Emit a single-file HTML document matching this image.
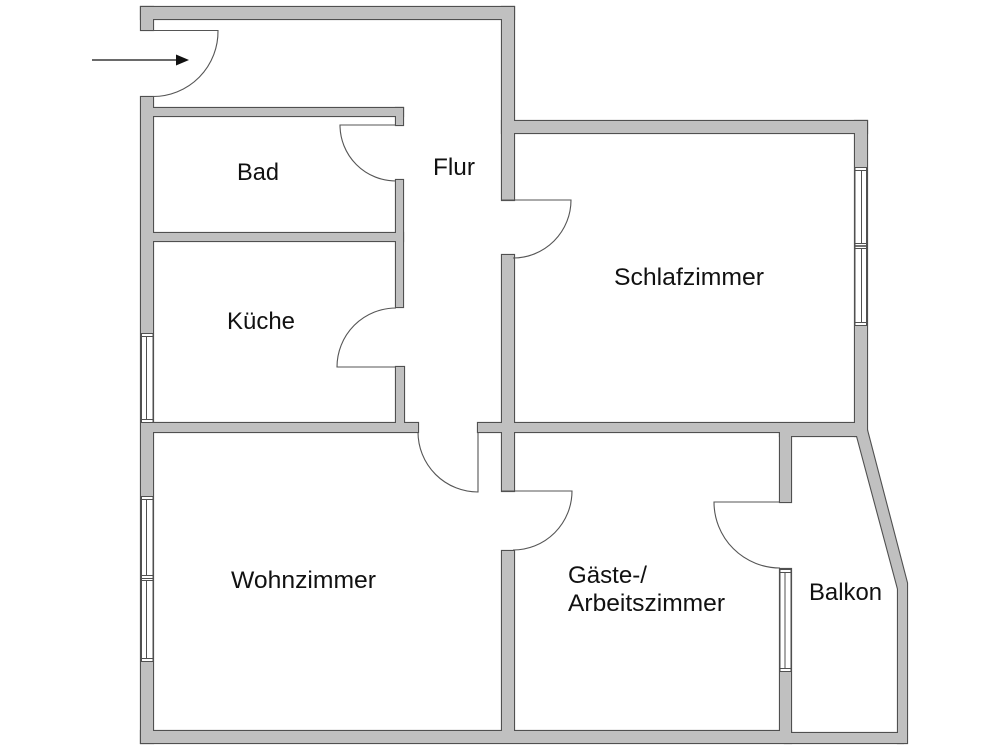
<!DOCTYPE html>
<html>
<head>
<meta charset="utf-8">
<style>
  html,body{margin:0;padding:0;background:#fff;}
  svg{display:block;}
  text{font-family:"Liberation Sans",Arial,sans-serif;font-size:24.5px;fill:#111;}
</style>
</head>
<body>
<svg width="1000" height="750" viewBox="0 0 1000 750" xmlns="http://www.w3.org/2000/svg">
  <defs>
    <g id="w">
      <!-- outer walls -->
      <rect x="141" y="7" width="373" height="12"/>
      <rect x="141" y="7" width="12" height="23"/>
      <rect x="141" y="97" width="12" height="646"/>
      <rect x="502" y="7" width="12" height="193"/>
      <rect x="502" y="121" width="365" height="12"/>
      <rect x="855" y="121" width="12" height="315"/>
      <rect x="141" y="731" width="650" height="12"/>
      <polygon points="855,430 867,430 907,583 907,743 898,743 898,589 857,436"/>
      <!-- inner walls -->
      <rect x="150" y="108" width="253" height="8"/>
      <rect x="396" y="108" width="7" height="17"/>
      <rect x="396" y="180" width="7" height="127"/>
      <rect x="150" y="233" width="253" height="8"/>
      <rect x="396" y="367" width="8" height="60"/>
      <rect x="150" y="423" width="268" height="9"/>
      <rect x="478" y="423" width="30" height="9"/>
      <rect x="502" y="255" width="12" height="236"/>
      <rect x="502" y="551" width="12" height="185"/>
      <rect x="508" y="423" width="355" height="9"/>
      <rect x="780" y="424" width="83" height="12"/>
      <rect x="780" y="424" width="11" height="78"/>
      <rect x="780" y="569" width="11" height="170"/>
      <rect x="785" y="733" width="118" height="10"/>
    </g>
  </defs>

  <use href="#w" fill="#505050" stroke="#505050" stroke-width="2.2"/>
  <use href="#w" fill="#c0c0c0" stroke="none"/>

  <!-- windows -->
  <g stroke="#505050" stroke-width="1" fill="#fff">
    <!-- Küche -->
    <rect x="141.5" y="333" width="11.5" height="90" stroke="none"/>
    <line x1="141.5" y1="333" x2="141.5" y2="423"/>
    <line x1="153" y1="333" x2="153" y2="423"/>
    <line x1="141.5" y1="333.5" x2="153" y2="333.5"/>
    <line x1="141.5" y1="336.5" x2="153" y2="336.5"/>
    <line x1="141.5" y1="419.5" x2="153" y2="419.5"/>
    <line x1="141.5" y1="422.5" x2="153" y2="422.5"/>
    <line x1="146.5" y1="336.5" x2="146.5" y2="419.5"/>

    <!-- Wohnzimmer 1 -->
    <rect x="141.5" y="496" width="11.5" height="166" stroke="none"/>
    <line x1="141.5" y1="496" x2="141.5" y2="662"/>
    <line x1="153" y1="496" x2="153" y2="662"/>
    <line x1="141.5" y1="496.5" x2="153" y2="496.5"/>
    <line x1="141.5" y1="499.5" x2="153" y2="499.5"/>
    <line x1="141.5" y1="575.5" x2="153" y2="575.5"/>
    <line x1="141.5" y1="578.5" x2="153" y2="578.5"/>
    <line x1="141.5" y1="580.5" x2="153" y2="580.5"/>
    <line x1="141.5" y1="658.5" x2="153" y2="658.5"/>
    <line x1="141.5" y1="661.5" x2="153" y2="661.5"/>
    <line x1="146.5" y1="499.5" x2="146.5" y2="575.5"/>
    <line x1="146.5" y1="580.5" x2="146.5" y2="658.5"/>

    <!-- Schlafzimmer -->
    <rect x="855" y="167" width="11.5" height="159" stroke="none"/>
    <line x1="855" y1="167" x2="855" y2="326"/>
    <line x1="866.5" y1="167" x2="866.5" y2="326"/>
    <line x1="855" y1="167.5" x2="866.5" y2="167.5"/>
    <line x1="855" y1="170.5" x2="866.5" y2="170.5"/>
    <line x1="855" y1="243.5" x2="866.5" y2="243.5"/>
    <line x1="855" y1="246" x2="866.5" y2="246" stroke-width="1.6"/>
    <line x1="855" y1="248.5" x2="866.5" y2="248.5"/>
    <line x1="855" y1="322.5" x2="866.5" y2="322.5"/>
    <line x1="855" y1="325.5" x2="866.5" y2="325.5"/>
    <line x1="861.5" y1="170.5" x2="861.5" y2="243.5"/>
    <line x1="861.5" y1="248.5" x2="861.5" y2="322.5"/>

    <!-- Balkon -->
    <rect x="780" y="569" width="11" height="103" stroke="none"/>
    <line x1="780" y1="569" x2="780" y2="672"/>
    <line x1="791" y1="569" x2="791" y2="672"/>
    <line x1="780" y1="569.5" x2="791" y2="569.5"/>
    <line x1="780" y1="572.5" x2="791" y2="572.5"/>
    <line x1="780" y1="668.5" x2="791" y2="668.5"/>
    <line x1="780" y1="671.5" x2="791" y2="671.5"/>
    <line x1="785" y1="572.5" x2="785" y2="668.5"/>
  </g>

  <!-- doors -->
  <g fill="none" stroke="#555" stroke-width="1.1">
    <path d="M153,30.5 H218 A65,65 0 0,1 153,96.5"/>
    <path d="M396,125 H340 A56,56 0 0,0 396,181"/>
    <path d="M396,367 H337 A59,59 0 0,1 396,308"/>
    <path d="M418,432 A60,60 0 0,0 478,492 L478,432"/>
    <path d="M502,200 H571 A58,58 0 0,1 513,258"/>
    <path d="M502,491 H572 A59,59 0 0,1 513,550"/>
    <path d="M780,502 H714 A66,66 0 0,0 780,568"/>
  </g>

  <!-- entrance arrow -->
  <line x1="92" y1="60" x2="178" y2="60" stroke="#111" stroke-width="1.2"/>
  <polygon points="176,54.5 189,60 176,65.5" fill="#111"/>

  <!-- labels -->
  <text x="237" y="180" textLength="42" lengthAdjust="spacingAndGlyphs">Bad</text>
  <text x="433" y="175" textLength="42" lengthAdjust="spacingAndGlyphs">Flur</text>
  <text x="227" y="329" textLength="68" lengthAdjust="spacingAndGlyphs">Küche</text>
  <text x="614" y="285" textLength="150" lengthAdjust="spacingAndGlyphs">Schlafzimmer</text>
  <text x="231" y="588" textLength="145" lengthAdjust="spacingAndGlyphs">Wohnzimmer</text>
  <text x="568" y="583" textLength="79" lengthAdjust="spacingAndGlyphs">Gäste-/</text>
  <text x="568" y="611" textLength="157" lengthAdjust="spacingAndGlyphs">Arbeitszimmer</text>
  <text x="809" y="600" textLength="73" lengthAdjust="spacingAndGlyphs">Balkon</text>
</svg>
</body>
</html>
